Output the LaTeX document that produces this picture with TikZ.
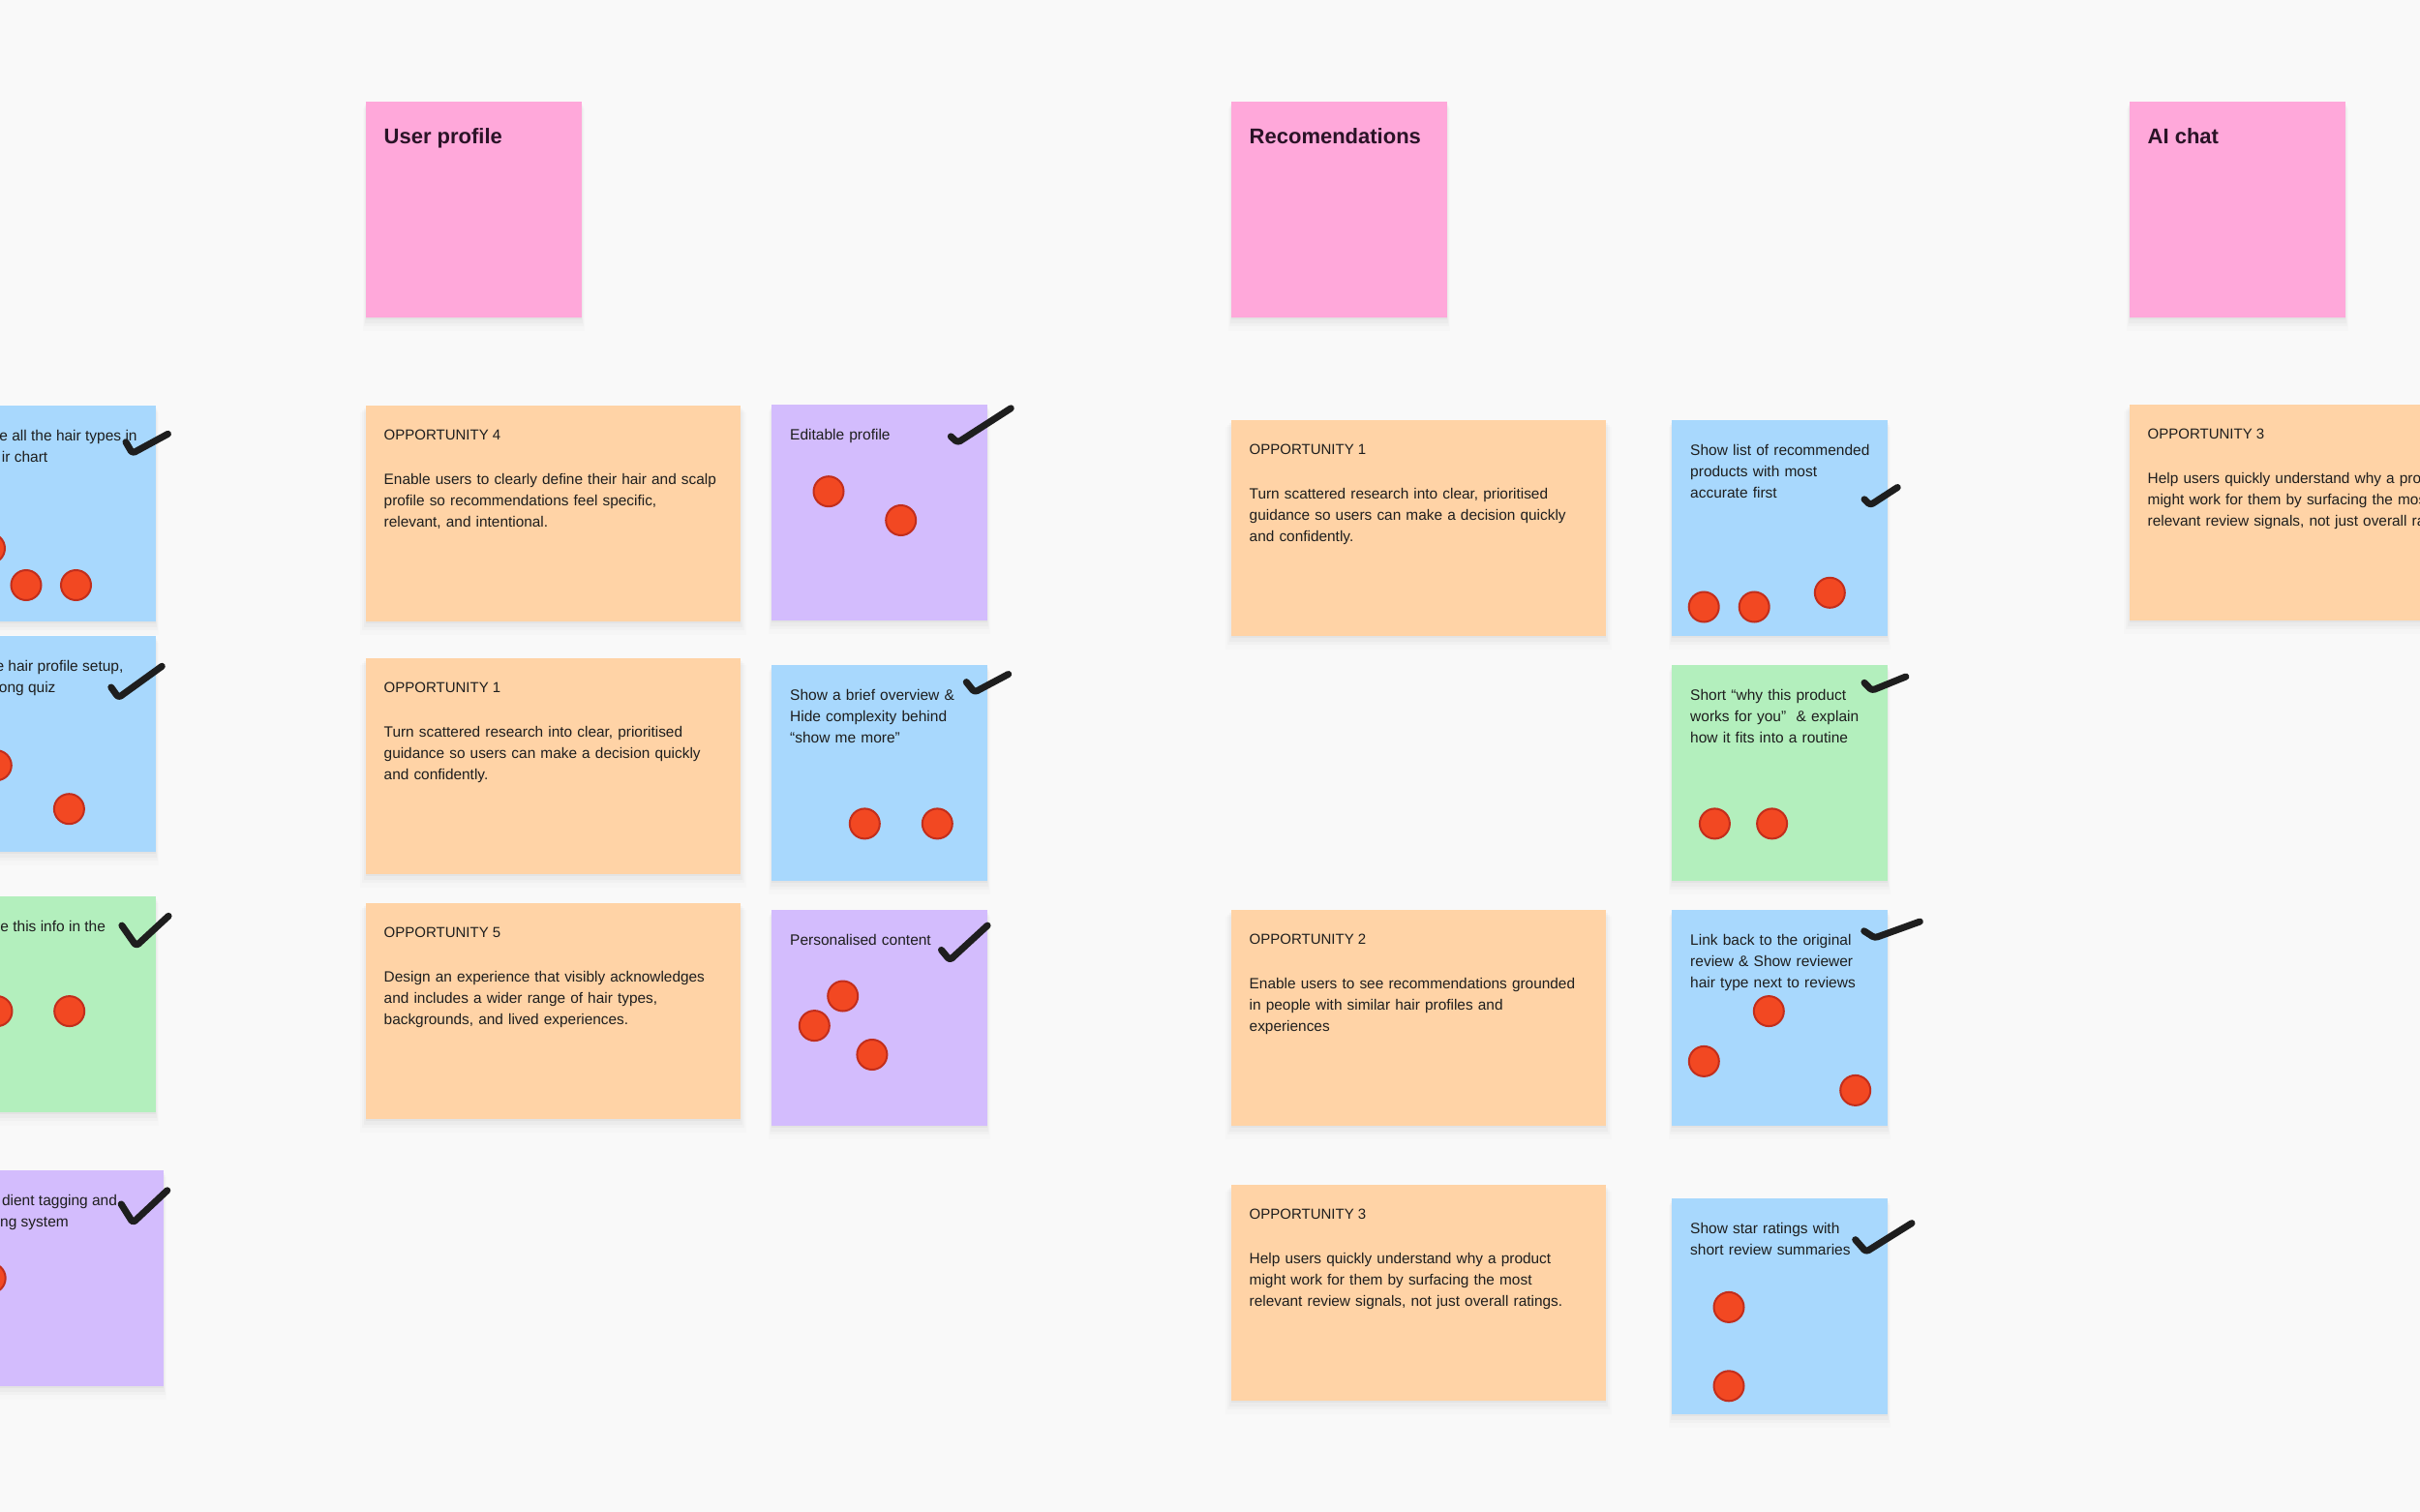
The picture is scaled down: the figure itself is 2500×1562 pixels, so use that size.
\documentclass[tikz,border=0pt]{standalone}
\usepackage{fontspec}
\setmainfont{Liberation Sans}
\usetikzlibrary{shadows}
\definecolor{bg}{HTML}{F9F9F9}
\definecolor{cpink}{HTML}{FFA8DA}
\definecolor{corange}{HTML}{FFD3A6}
\definecolor{cblue}{HTML}{A8D8FD}
\definecolor{cpurple}{HTML}{D3BCFD}
\definecolor{cgreen}{HTML}{B3EFBD}
\definecolor{dotfill}{HTML}{F24822}
\definecolor{dotedge}{HTML}{C22E1C}
\definecolor{ink}{HTML}{1E1E1E}
\definecolor{headink}{HTML}{2A1327}
\begin{document}
\begin{tikzpicture}[x=1pt,y=-1pt,
  note/.style={anchor=north west, minimum width=223pt, minimum height=223pt, inner sep=0pt, outer sep=0pt,
    general shadow={fill=black, opacity=0.012, shadow yshift=-10pt, shadow scale=1.03},
    general shadow={fill=black, opacity=0.018, shadow yshift=-7pt, shadow scale=1.02},
    general shadow={fill=black, opacity=0.025, shadow yshift=-4.5pt, shadow scale=1.01},
    general shadow={fill=black, opacity=0.03, shadow yshift=-2pt}},
  opp/.style={note, minimum width=387pt, fill=corange},
  dot/.style={circle, fill=dotfill, draw=dotedge, line width=2pt, minimum size=31pt, inner sep=0pt},
  stxt/.style={anchor=base west, inner sep=0pt, font=\fontsize{15.5}{22.3}\selectfont, text=ink, text width=205pt, align=left},
  ctxt/.style={anchor=base east, inner sep=0pt, font=\fontsize{15.5}{22.3}\selectfont, text=ink},
  ohead/.style={anchor=base west, inner sep=0pt, font=\fontsize{15}{20}\selectfont, text=ink},
  obody/.style={anchor=base west, inner sep=0pt, font=\fontsize{15.4}{22.2}\selectfont, text=ink, text width=420pt, align=left},
  htxt/.style={anchor=base west, inner sep=0pt, font=\bfseries\fontsize{22}{26}\selectfont, text=headink},
  check/.style={draw=ink, line width=7pt, line cap=round, line join=round, rounded corners=3pt}
]
\useasboundingbox (0,0) rectangle (2500,1562);
\clip (0,0) rectangle (2500,1562);
\fill[bg] (0,0) rectangle (2500,1562);

% ---------- headers ----------
\node[note, fill=cpink] (hup) at (378,105) {};
\node[htxt] (hupt) at ([xshift=18.5pt,yshift=-44pt]hup.north west) {User profile};
\node[note, fill=cpink] (hrec) at (1272,105) {};
\node[htxt] (hrect) at ([xshift=18.5pt,yshift=-44pt]hrec.north west) {Recomendations};
\node[note, fill=cpink] (hai) at (2200,105) {};
\node[htxt] (hait) at ([xshift=18.5pt,yshift=-44pt]hai.north west) {AI chat};

% ---------- left column (cut) ----------
\node[note, fill=cblue] (l1) at (-62,419) {};
\node[ctxt] (l1a) at (141.8,455) {e all the hair types in};
\node[ctxt] (l1b) at (49.5,477) {ir chart};
\node[dot] (l1d1) at (-10.5,566.5) {};
\node[dot] (l1d2) at (27,604.5) {};
\node[dot] (l1d3) at (78.5,604.5) {};
\draw[check] (130,456.7) -- (136.7,468.3) -- (173.5,448.3);

\node[note, fill=cblue] (l2) at (-62,657) {};
\node[ctxt] (l2a) at (127.6,693) {e hair profile setup,};
\node[ctxt] (l2b) at (57.7,715) {ong quiz};
\node[dot] (l2d1) at (-3.7,790.7) {};
\node[dot] (l2d2) at (71.4,835.7) {};
\draw[check] (114.8,710) -- (122.4,720.7) -- (167.3,688.3);

\node[note, fill=cgreen] (l3) at (-62,926) {};
\node[ctxt] (l3a) at (109.2,962) {e this info in the};
\node[dot] (l3d1) at (-3,1044.6) {};
\node[dot] (l3d2) at (71.7,1044.6) {};
\draw[check] (125.9,956.1) -- (140.7,977.2) -- (174.1,946.3);

\node[note, fill=cpurple] (l4) at (-54,1209) {};
\node[ctxt] (l4a) at (121.2,1245) {dient tagging and};
\node[ctxt] (l4b) at (71,1267) {ng system};
\node[dot] (l4d1) at (-9.8,1320.4) {};
\draw[check] (125.2,1243.9) -- (137.3,1263.2) -- (172.8,1229.8);

% ---------- User profile column ----------
\node[opp] (o4) at (378,419) {};
\node[ohead] (o4h) at ([xshift=18.5pt,yshift=-35pt]o4.north west) {OPPORTUNITY 4};
\node[obody] (o4b) at ([xshift=18.5pt,yshift=-81pt]o4.north west) {Enable users to clearly define their hair and scalp\\profile so recommendations feel specific,\\relevant, and intentional.};

\node[opp] (o1a) at (378,680) {};
\node[ohead] (o1ah) at ([xshift=18.5pt,yshift=-35pt]o1a.north west) {OPPORTUNITY 1};
\node[obody] (o1ab) at ([xshift=18.5pt,yshift=-81pt]o1a.north west) {Turn scattered research into clear, prioritised\\guidance so users can make a decision quickly\\and confidently.};

\node[opp] (o5) at (378,933) {};
\node[ohead] (o5h) at ([xshift=18.5pt,yshift=-35pt]o5.north west) {OPPORTUNITY 5};
\node[obody] (o5b) at ([xshift=18.5pt,yshift=-81pt]o5.north west) {Design an experience that visibly acknowledges\\and includes a wider range of hair types,\\backgrounds, and lived experiences.};

\node[note, fill=cpurple] (ed) at (797,418) {};
\node[stxt] (edt) at ([xshift=19pt,yshift=-36pt]ed.north west) {Editable profile};
\node[dot] (edd1) at (856,507.7) {};
\node[dot] (edd2) at (930.7,537.5) {};
\draw[check] (982.3,450.9) -- (989.3,457.2) -- (1044.3,421.8);

\node[note, fill=cblue] (ov) at (797,687) {};
\node[stxt] (ovt) at ([xshift=19pt,yshift=-36pt]ov.north west) {Show a brief overview \&\\Hide complexity behind\\“show me more”};
\node[dot] (ovd1) at (893.3,850.9) {};
\node[dot] (ovd2) at (968.3,850.9) {};
\draw[check] (998.3,704.6) -- (1006.7,715.1) -- (1041.7,696.5);

\node[note, fill=cpurple] (pc) at (797,940) {};
\node[stxt] (pct) at ([xshift=19pt,yshift=-36pt]pc.north west) {Personalised content};
\node[dot] (pcd1) at (870.7,1029) {};
\node[dot] (pcd2) at (841.3,1059.6) {};
\node[dot] (pcd3) at (900.9,1089.5) {};
\draw[check] (972.5,981.4) -- (981.2,991.9) -- (1020.1,956.1);

% ---------- Recommendations column ----------
\node[opp] (o1b) at (1272,434) {};
\node[ohead] (o1bh) at ([xshift=18.5pt,yshift=-35pt]o1b.north west) {OPPORTUNITY 1};
\node[obody] (o1bb) at ([xshift=18.5pt,yshift=-81pt]o1b.north west) {Turn scattered research into clear, prioritised\\guidance so users can make a decision quickly\\and confidently.};

\node[opp] (o2) at (1272,940) {};
\node[ohead] (o2h) at ([xshift=18.5pt,yshift=-35pt]o2.north west) {OPPORTUNITY 2};
\node[obody] (o2b) at ([xshift=18.5pt,yshift=-81pt]o2.north west) {Enable users to see recommendations grounded\\in people with similar hair profiles and\\experiences};

\node[opp] (o3) at (1272,1224) {};
\node[ohead] (o3h) at ([xshift=18.5pt,yshift=-35pt]o3.north west) {OPPORTUNITY 3};
\node[obody] (o3b) at ([xshift=18.5pt,yshift=-81pt]o3.north west) {Help users quickly understand why a product\\might work for them by surfacing the most\\relevant review signals, not just overall ratings.};

\node[note, fill=cblue] (sl) at (1727,434) {};
\node[stxt] (slt) at ([xshift=19pt,yshift=-36pt]sl.north west) {Show list of recommended\\products with most\\accurate first};
\node[dot] (sld1) at (1760.2,627) {};
\node[dot] (sld2) at (1812.2,627) {};
\node[dot] (sld3) at (1890.3,612.3) {};
\draw[check] (1926,515.8) -- (1932.1,521.8) -- (1960.2,503.5);

\node[note, fill=cgreen] (sw) at (1727,687) {};
\node[stxt] (swt) at ([xshift=19pt,yshift=-36pt]sw.north west) {Short “why this product\\works for you”~ \& explain\\how it fits into a routine};
\node[dot] (swd1) at (1771.4,850.9) {};
\node[dot] (swd2) at (1830.6,850.9) {};
\draw[check] (1926,705.3) -- (1933.7,713.3) -- (1968.9,699);

\node[note, fill=cblue] (lb) at (1727,940) {};
\node[stxt] (lbt) at ([xshift=19pt,yshift=-36pt]lb.north west) {Link back to the original\\review \& Show reviewer\\hair type next to reviews};
\node[dot] (lbd1) at (1827.3,1044.6) {};
\node[dot] (lbd2) at (1760.3,1096.4) {};
\node[dot] (lbd3) at (1916.7,1126.4) {};
\draw[check] (1925.7,961.8) -- (1936.7,968.9) -- (1983.3,952.1);

\node[note, fill=cblue] (ss) at (1727,1238) {};
\node[stxt] (sst) at ([xshift=19pt,yshift=-36pt]ss.north west) {Show star ratings with\\short review summaries};
\node[dot] (ssd1) at (1786,1350.4) {};
\node[dot] (ssd2) at (1786,1431.8) {};
\draw[check] (1916.7,1280.7) -- (1927.7,1293.2) -- (1975,1263.6);

% ---------- AI chat column ----------
\node[opp] (o3c) at (2200,418) {};
\node[ohead] (o3ch) at ([xshift=18.5pt,yshift=-35pt]o3c.north west) {OPPORTUNITY 3};
\node[obody] (o3cb) at ([xshift=18.5pt,yshift=-81pt]o3c.north west) {Help users quickly understand why a product\\might work for them by surfacing the most\\relevant review signals, not just overall ratings.};
\end{tikzpicture}
\end{document}
